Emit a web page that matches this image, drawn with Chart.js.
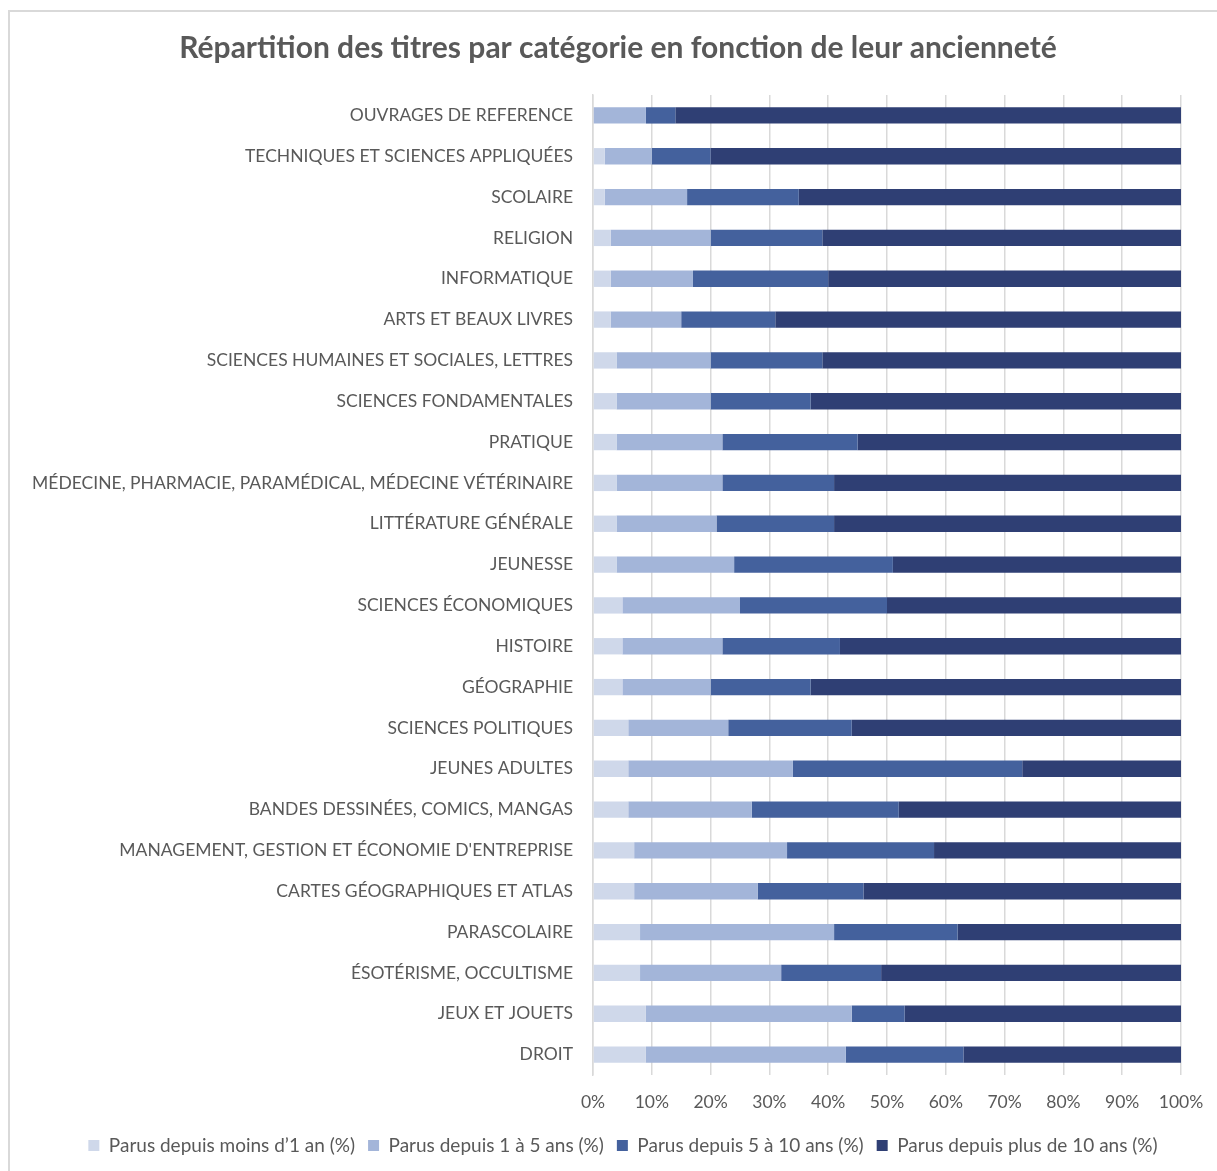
<!DOCTYPE html>
<html>
<head>
<meta charset="utf-8">
<script src="https://cdn.jsdelivr.net/npm/chart.js@4"></script>
<style>
    body { margin: 0; background: #fff; overflow: hidden; }
    #frame {
        position: absolute; left: 8px; top: 10px; width: 1300px; height: 1300px;
        border-left: 2px solid #d9d9d9; border-top: 2px solid #d9d9d9;
    }
    #chart { position: absolute; left: 0; top: 0; }
</style>
</head>
<body>
<div id="frame"></div>
<canvas id="chart" width="1217" height="1171"></canvas>
<script>
// Categories, top to bottom
const categories = [
    "OUVRAGES DE REFERENCE",
    "TECHNIQUES ET SCIENCES APPLIQUÉES",
    "SCOLAIRE",
    "RELIGION",
    "INFORMATIQUE",
    "ARTS ET BEAUX LIVRES",
    "SCIENCES HUMAINES ET SOCIALES, LETTRES",
    "SCIENCES FONDAMENTALES",
    "PRATIQUE",
    "MÉDECINE, PHARMACIE, PARAMÉDICAL, MÉDECINE VÉTÉRINAIRE",
    "LITTÉRATURE GÉNÉRALE",
    "JEUNESSE",
    "SCIENCES ÉCONOMIQUES",
    "HISTOIRE",
    "GÉOGRAPHIE",
    "SCIENCES POLITIQUES",
    "JEUNES ADULTES",
    "BANDES DESSINÉES, COMICS, MANGAS",
    "MANAGEMENT, GESTION ET ÉCONOMIE D'ENTREPRISE",
    "CARTES GÉOGRAPHIQUES ET ATLAS",
    "PARASCOLAIRE",
    "ÉSOTÉRISME, OCCULTISME",
    "JEUX ET JOUETS",
    "DROIT"
];

// Series values (%)
const lessThan1 = [0, 2, 2, 3, 3, 3, 4, 4, 4, 4, 4, 4, 5, 5, 5, 6, 6, 6, 7, 7, 8, 8, 9, 9];
const from1to5 = [9, 8, 14, 17, 14, 12, 16, 16, 18, 18, 17, 20, 20, 17, 15, 17, 28, 21, 26, 21, 33, 24, 35, 34];
const from5to10 = [5, 10, 19, 19, 23, 16, 19, 17, 23, 19, 20, 27, 25, 20, 17, 21, 39, 25, 25, 18, 21, 17, 9, 20];
const moreThan10 = [86, 80, 65, 61, 60, 69, 61, 63, 55, 59, 59, 49, 50, 58, 63, 56, 27, 48, 42, 54, 38, 51, 47, 37];

const seriesNames = [
    "Parus depuis moins d\u20191 an (%)",
    "Parus depuis 1 à 5 ans (%)",
    "Parus depuis 5 à 10 ans (%)",
    "Parus depuis plus de 10 ans (%)"
];
const seriesColors = ['#cfd8ea', '#a3b5d9', '#44619d', '#2f3f74'];

const xTicks = [0, 10, 20, 30, 40, 50, 60, 70, 80, 90, 100];

const textColor = '#595959';
const fontFamily = 'Lato, "Open Sans", sans-serif';

const seriesData = [lessThan1, from1to5, from5to10, moreThan10];

// nudge title and legend sideways, the original centres them on the whole picture
const shiftBlocks = {
    id: 'shiftBlocks',
    afterLayout: function (chart) {
        if (chart.titleBlock) {
            chart.titleBlock.left += 20;
            chart.titleBlock.right += 20;
        }
        if (chart.legend) {
            chart.legend.left += 25;
            chart.legend.right += 25;
        }
    }
};

const ctx = document.getElementById('chart').getContext('2d');
new Chart(ctx, {
    type: 'bar',
    data: {
        labels: categories,
        datasets: seriesData.map(function (values, i) {
            return {
                label: seriesNames[i],
                data: values,
                backgroundColor: seriesColors[i],
                borderWidth: 0,
                barPercentage: 1,
                categoryPercentage: 0.4
            };
        })
    },
    options: {
        indexAxis: 'y',
        responsive: false,
        animation: false,
        layout: { padding: { left: 15, right: 36, top: 0, bottom: 6 } },
        plugins: {
            title: {
                display: true,
                text: 'Répartition des titres par catégorie en fonction de leur ancienneté',
                color: textColor,
                font: { family: fontFamily, size: 30, weight: 'bold' },
                padding: { top: 30, bottom: 29 }
            },
            legend: {
                position: 'bottom',
                labels: {
                    color: textColor,
                    font: { family: fontFamily, size: 19 },
                    boxWidth: 11,
                    boxHeight: 11,
                    padding: 13
                }
            },
            tooltip: { enabled: false }
        },
        scales: {
            x: {
                stacked: true,
                min: 0,
                max: 100,
                afterBuildTicks: function (scale) {
                    scale.ticks = xTicks.map(function (v) { return { value: v }; });
                },
                afterFit: function (scale) {
                    scale.height = 48;
                    scale.paddingLeft = 0;
                    scale.paddingRight = 0;
                },
                ticks: {
                    color: textColor,
                    font: { family: fontFamily, size: 17.5 },
                    padding: 17,
                    callback: function (v) { return v + '%'; }
                },
                grid: { color: '#d9d9d9', lineWidth: 1.5, drawTicks: false },
                border: { display: false }
            },
            y: {
                stacked: true,
                afterFit: function (scale) { scale.width = 593 - 15; },
                ticks: {
                    color: textColor,
                    font: { family: fontFamily, size: 17.5 },
                    padding: 12,
                    autoSkip: false
                },
                grid: { display: false },
                border: { color: '#d9d9d9', width: 1.5 }
            }
        }
    },
    plugins: [shiftBlocks]
});
</script>
</body>
</html>
